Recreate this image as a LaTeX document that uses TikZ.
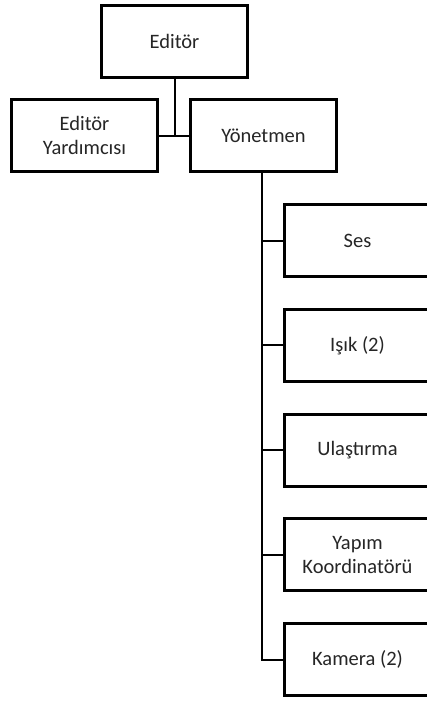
\documentclass[tikz,border=0pt]{standalone}
\usepackage{fontspec}
\setmainfont{Carlito}
\begin{document}
\begin{tikzpicture}[x=1pt,y=-1pt,
  orgbox/.style={draw=black, line width=3pt, fill=white, minimum width=146pt, minimum height=72pt,
    inner sep=0pt, outer sep=0pt, align=center, text=black!85,
    font=\fontsize{20.5}{24}\selectfont},
  conn/.style={draw=black, line width=2pt}]
\useasboundingbox (0,0) rectangle (427,701);
\clip (0,0) rectangle (427,701);
\fill[white] (0,0) rectangle (427,701);
\node[orgbox] (ed) at (174.5,41.5) {Editör};
\node[orgbox] (ey) at (84.5,135.5) {Editör\\Yardımcısı};
\node[orgbox] (yon) at (263.5,135.5) {Yönetmen};
\node[orgbox] (ses) at (357.5,240.5) {Ses};
\node[orgbox] (isik) at (357.5,345.25) {Işık (2)};
\node[orgbox] (ul) at (357.5,450) {Ulaştırma};
\node[orgbox] (yap) at (357.5,554.75) {Yapım\\Koordinatörü};
\node[orgbox] (kam) at (357.5,659.5) {Kamera (2)};
\draw[conn] (ed.south) -- (ed.south |- ey.east);
\draw[conn] (ey.east) -- (yon.west);
\draw[conn] ([xshift=-1.5pt]yon.south) |- (kam.west);
\foreach \n in {ses,isik,ul,yap}
  \draw[conn] ([xshift=-1.5pt]yon.south |- \n.west) -- (\n.west);
\end{tikzpicture}
\end{document}
